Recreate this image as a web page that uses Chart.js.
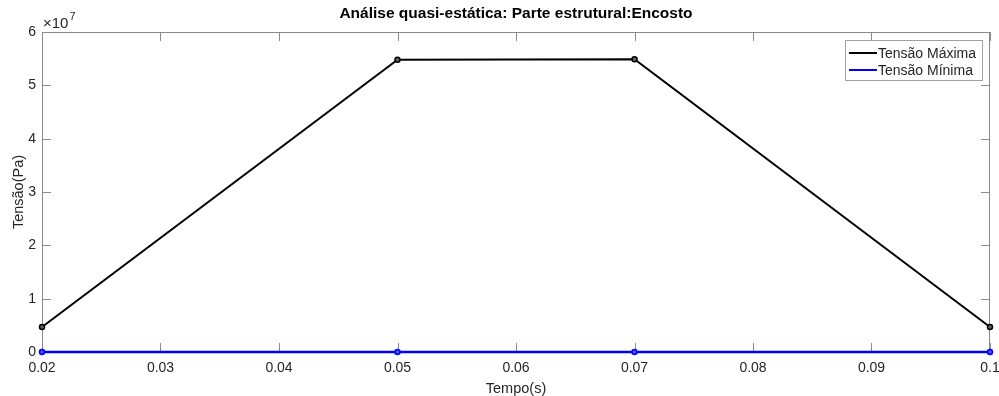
<!DOCTYPE html>
<html>
<head>
<meta charset="utf-8">
<script src="https://cdn.jsdelivr.net/npm/chart.js@4"></script>
<style>
  html, body { margin: 0; padding: 0; background: #fff; }
  #wrap { width: 999px; height: 396px; }
</style>
</head>
<body>
<div id="wrap"><canvas id="c" width="999" height="396"></canvas></div>
<script>
const tempo = [0.02, 0.05, 0.07, 0.1];
const tensaoMax = [4.7e6, 5.48e7, 5.49e7, 4.7e6];
const tensaoMin = [0, 0, 0, 0];
const xTicks = [0.02, 0.03, 0.04, 0.05, 0.06, 0.07, 0.08, 0.09, 0.1];
const yTicks = [0, 1, 2, 3, 4, 5, 6];

const FONT = "'Liberation Sans', Arial, sans-serif";
const AXIS = "#8a8a8a";
const TEXT = "#262626";

const matlabAxes = {
  id: "matlabAxes",
  beforeDatasetsDraw(chart) {
    const { ctx, chartArea: a, scales } = chart;
    ctx.save();
    ctx.strokeStyle = AXIS;
    ctx.lineWidth = 1;
    ctx.strokeRect(a.left + 0.5, a.top + 0.5, a.right - a.left - 1, a.bottom - a.top - 1);
    // inward ticks
    const len = 9;
    ctx.beginPath();
    scales.x.ticks.forEach(t => {
      const px = Math.round(scales.x.getPixelForValue(t.value)) + 0.5;
      ctx.moveTo(px, a.bottom); ctx.lineTo(px, a.bottom - len);
      ctx.moveTo(px, a.top); ctx.lineTo(px, a.top + len);
    });
    scales.y.ticks.forEach(t => {
      const py = Math.round(scales.y.getPixelForValue(t.value)) + 0.5;
      ctx.moveTo(a.left, py); ctx.lineTo(a.left + len, py);
      ctx.moveTo(a.right, py); ctx.lineTo(a.right - len, py);
    });
    ctx.stroke();
    ctx.restore();
  },
  afterDraw(chart) {
    const { ctx, chartArea: a } = chart;
    ctx.save();
    // exponent label
    ctx.fillStyle = TEXT;
    ctx.textBaseline = "alphabetic";
    ctx.textAlign = "left";
    ctx.font = "15px " + FONT;
    ctx.fillText("\u00d710", a.left + 1, a.top - 4);
    const w = ctx.measureText("\u00d710").width;
    ctx.font = "11px " + FONT;
    ctx.fillText("7", a.left + 2 + w, a.top - 12);

    // title
    ctx.font = "bold 15.5px " + FONT;
    ctx.textAlign = "center";
    ctx.fillStyle = "#000";
    ctx.fillText("Análise quasi-estática: Parte estrutural:Encosto", (a.left + a.right) / 2, 18);

    // axis titles
    ctx.fillStyle = TEXT;
    ctx.font = "14.5px " + FONT;
    ctx.fillText("Tempo(s)", (a.left + a.right) / 2, 393);
    ctx.save();
    ctx.translate(23, (a.top + a.bottom) / 2);
    ctx.rotate(-Math.PI / 2);
    ctx.fillText("Tensão(Pa)", 0, 0);
    ctx.restore();

    // legend
    const lx = 845, ly = 40, lw = 137, lh = 40;
    ctx.fillStyle = "#fff";
    ctx.fillRect(lx, ly, lw, lh);
    ctx.strokeStyle = "#a0a0a0";
    ctx.lineWidth = 1;
    ctx.strokeRect(lx + 0.5, ly + 0.5, lw, lh);
    ctx.font = "14px " + FONT;
    ctx.textAlign = "left";
    ctx.textBaseline = "middle";
    chart.data.datasets.forEach((ds, i) => {
      const y = ly + 13 + i * 17;
      ctx.strokeStyle = ds.borderColor;
      ctx.lineWidth = 2;
      ctx.beginPath();
      ctx.moveTo(lx + 4, y); ctx.lineTo(lx + 32, y);
      ctx.stroke();
      ctx.fillStyle = TEXT;
      ctx.fillText(ds.label, lx + 33, y + 1);
    });
    ctx.restore();
  }
};

new Chart(document.getElementById("c"), {
  type: "line",
  data: {
    datasets: [
      {
        label: "Tensão Máxima",
        data: tempo.map((t, i) => ({ x: t, y: tensaoMax[i] / 1e7 })),
        borderColor: "#000000",
        backgroundColor: "#666666",
        borderWidth: 2,
        pointRadius: 2.5,
        pointBorderWidth: 1.5,
        pointBorderColor: "#000000",
        clip: false,
        tension: 0
      },
      {
        label: "Tensão Mínima",
        data: tempo.map((t, i) => ({ x: t, y: tensaoMin[i] / 1e7 })),
        borderColor: "#0000ff",
        backgroundColor: "#5050ff",
        borderWidth: 2.5,
        pointRadius: 2.5,
        pointBorderWidth: 1.5,
        pointBorderColor: "#0000ff",
        clip: false,
        tension: 0
      }
    ]
  },
  options: {
    responsive: false,
    animation: false,
    layout: { padding: { top: 32, right: 9, left: 0, bottom: 0 } },
    plugins: {
      legend: { display: false },
      title: { display: false },
      tooltip: { enabled: false }
    },
    scales: {
      x: {
        type: "linear",
        min: 0.02,
        max: 0.1,
        afterBuildTicks: s => { s.ticks = xTicks.map(v => ({ value: v })); },
        afterFit: s => { s.height = 44; s.paddingLeft = 0; s.paddingRight = 0; },
        grid: { display: false, tickLength: 0 },
        border: { display: false },
        ticks: {
          color: TEXT,
          font: { family: FONT, size: 14 },
          padding: 8,
          maxRotation: 0,
          callback: v => String(Math.round(v * 100) / 100)
        }
      },
      y: {
        min: 0,
        max: 6,
        afterBuildTicks: s => { s.ticks = yTicks.map(v => ({ value: v })); },
        afterFit: s => { s.width = 42; s.paddingTop = 0; s.paddingBottom = 0; },
        grid: { display: false, tickLength: 0 },
        border: { display: false },
        ticks: {
          color: TEXT,
          font: { family: FONT, size: 14 },
          padding: 6,
          callback: v => String(v)
        }
      }
    }
  },
  plugins: [matlabAxes]
});
</script>
</body>
</html>
